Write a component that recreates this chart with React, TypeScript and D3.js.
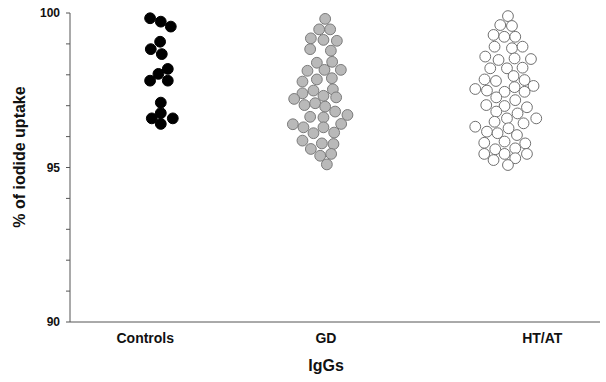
import React from "react";
import * as d3 from "d3";

const categories = ["Controls", "GD", "HT/AT"];
// numeric x positions of each group's swarm centre and label (SigmaPlot-style numeric x)
const groupX = [1.7, 4.72, 8.25];
const labelX = [1.42, 4.83, 8.91];

const controlsValues = [99.83, 99.72, 99.56, 99.07, 98.83, 98.67, 98.19, 98.03, 97.81, 97.81, 97.10, 96.76, 96.59, 96.59, 96.41];
const controlsJitter = [-1.0, 0.07, 1.07, 0, -0.93, 0.17, 0.77, -0.17, -1.0, 0.77, 0.07, 0.07, -0.83, 1.27, 0.07];

const gdValues = [
  99.81, 99.47, 99.47, 99.18, 99.13, 99.10, 98.83, 98.78, 98.39, 98.42,
  98.13, 98.16, 98.16, 97.78, 97.85, 97.89, 97.53, 97.49, 97.40, 97.22,
  97.32, 97.27, 97.02, 97.08, 96.97, 96.81, 96.70, 96.64, 96.62, 96.40,
  96.30, 96.41, 96.30, 96.11, 96.13, 95.87, 95.78, 95.76, 95.60, 95.38,
  95.44, 95.10,
];
const gdJitter = [
  0.5, -0.1, 1.0, -0.93, 0.33, 1.67, -1.0, 1.07, -0.33, 1.2,
  -1.27, 0.43, 2.07, -1.77, -0.33, 1.17, 1.27, -0.67, -1.77, -2.6,
  0.33, 1.6, -1.57, -0.5, 0.5, 1.5, 2.73, -1.0, 0.33, -2.73,
  -1.67, 2.1, 0.33, -0.67, 1.4, -1.77, 0.17, 1.33, -0.93, 0,
  1.1, 0.67,
];

const htValues = [
  99.90, 99.61, 99.58, 99.29, 99.23, 99.23, 98.91, 98.86, 98.91, 98.59,
  98.48, 98.53, 98.51, 98.21, 98.21, 98.23, 97.96, 97.85, 97.80, 97.83,
  97.64, 97.54, 97.49, 97.45, 97.60, 97.45, 97.27, 97.18, 97.02, 96.99,
  96.95, 96.81, 96.75, 96.48, 96.59, 96.43, 96.59, 96.32, 96.16, 96.11,
  96.27, 96.05, 95.80, 95.84, 95.78, 95.59, 95.62, 95.44, 95.44, 95.44,
  95.24, 95.30, 95.08,
];
const htJitter = [
  0.07, -0.7, 0.47, -1.37, -0.3, 0.8, -1.27, 0.47, 1.53, -2.2,
  -0.87, 0.73, 2.37, -1.7, -0.03, 1.53, 0.63, -2.27, -1.13, 1.73,
  2.63, -3.2, -2.03, -0.27, 0.73, 1.73, -1.1, 0.8, -2.1, -0.27,
  1.97, -1.1, 1.03, -1.27, -0.03, 1.63, 2.9, -3.2, -2.03, -0.97,
  0.13, 0.97, -2.3, -0.27, 1.8, -1.2, 0.8, -2.3, -0.27, 1.97,
  -1.37, 0.8, 0.07,
];

const seriesValues = [controlsValues, gdValues, htValues];
const seriesJitter = [controlsJitter, gdJitter, htJitter];
const fills = ["#000000", "#b9b9b9", "#ffffff"];
const strokes = ["#000000", "#7a7a7a", "#707070"];

const majorTicks = [90, 95, 100];
const minorTicks = d3.range(90, 101, 1);

export default function App() {
  const W = 606;
  const H = 382;
  const left = 70;
  const right = 600;
  const top = 13;
  const bottom = 322;
  const x = d3.scaleLinear().domain([0, 10]).range([left, right]);
  const y = d3.scaleLinear().domain([90, 100]).range([bottom, top]);
  const r = 5.4;
  const jitterUnit = 10;
  const font = "Arial, 'Liberation Sans', Helvetica, sans-serif";

  return (
    <svg width={W} height={H} style={{ position: "absolute", left: 0, top: 0, background: "#fff" }}>
      {/* axes */}
      <line x1={left} x2={left} y1={top} y2={bottom} stroke="#555" strokeWidth={1} />
      <line x1={left} x2={right} y1={bottom} y2={bottom} stroke="#555" strokeWidth={1} />
      {minorTicks.map((t) => (
        <line key={"m" + t} x1={left - 4} x2={left} y1={y(t)} y2={y(t)} stroke="#555" strokeWidth={1} />
      ))}
      {majorTicks.map((t) => (
        <text key={"t" + t} x={left - 10} y={y(t)} dy="0.35em" textAnchor="end"
          fontFamily={font} fontWeight="bold" fontSize={12} fill="#111">{t}</text>
      ))}
      <text transform={`translate(25,157) rotate(-90)`} textAnchor="middle"
        fontFamily={font} fontWeight="bold" fontSize={16} fill="#111">% of iodide uptake</text>
      {categories.map((c, i) => (
        <text key={c} x={x(labelX[i])} y={343} textAnchor="middle"
          fontFamily={font} fontWeight="bold" fontSize={14} fill="#111">{c}</text>
      ))}
      <text x={326} y={371} textAnchor="middle" fontFamily={font} fontWeight="bold" fontSize={16} fill="#111">IgGs</text>
      {/* points */}
      {seriesValues.map((vals, gi) =>
        vals.map((v, j) => (
          <circle key={gi + "-" + j}
            cx={x(groupX[gi]) + seriesJitter[gi][j] * jitterUnit}
            cy={y(v)} r={r}
            fill={fills[gi]} stroke={strokes[gi]} strokeWidth={1} />
        ))
      )}
    </svg>
  );
}
